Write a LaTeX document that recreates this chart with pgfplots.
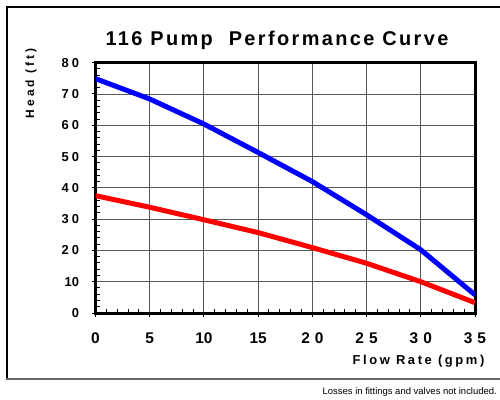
\documentclass[border=0pt]{standalone}
\usepackage{fontspec}
\setmainfont{Liberation Sans}
\usepackage{pgfplots}
\pgfplotsset{compat=1.18}
\begin{document}
\begin{tikzpicture}
\useasboundingbox (0,0) rectangle (500bp,-400bp);
\draw[line width=1.5bp, black] (7bp,-378.5bp) -- (7bp,-7bp) -- (505bp,-7bp);
\draw[line width=2bp, black!60] (6bp,-378.5bp) -- (505bp,-378.5bp);
\begin{axis}[
  at={(95.5bp,-313bp)}, anchor=south west,
  scale only axis, width=379.5bp, height=250.3bp,
  xmin=0, xmax=35, ymin=0, ymax=80,
  xtick={0,5,...,35}, ytick={0,10,...,80},
  xticklabels={0,5,10,15,2\kern5pt0,2\kern5pt5,3\kern5pt0,3\kern5pt5},
  yticklabels={0,10,2\kern3pt0,3\kern3pt0,4\kern3pt0,5\kern3pt0,6\kern3pt0,7\kern3pt0,8\kern3pt0},
  minor x tick num=4, minor y tick num=4,
  grid=major, major grid style={black!65, line width=0.9bp},
  axis line style={line width=3bp, black},
  xtick pos=bottom, ytick pos=left,
  tick align=inside,
  major tick length=4bp, minor tick length=4bp,
  tick style={black, line width=1bp},
  every major x tick/.append style={yshift=-4bp},
  every major y tick/.append style={xshift=-4bp},
  xticklabel style={font=\fontsize{15.5}{17}\selectfont\bfseries, yshift=-16bp},
  yticklabel style={font=\fontsize{13}{15}\selectfont\bfseries, xshift=-13bp},
]
\addplot[blue, line width=5bp, line join=round] coordinates {(0,74.9)(5,68.4)(10,60.4)(15,51.3)(20,42.0)(25,31.4)(30,20.2)(35,5.8)};
\addplot[red, line width=5bp, line join=round] coordinates {(0,37.5)(5,33.8)(10,29.8)(15,25.7)(20,20.9)(25,15.9)(30,10.0)(35,3.3)};
\end{axis}
\node[font=\fontsize{20}{22}\selectfont\bfseries\addfontfeatures{LetterSpace=12}] at (277bp,-40bp) {116 Pump\ \ Performance Curve};
\node[font=\fontsize{12}{14}\selectfont\bfseries\addfontfeatures{LetterSpace=25}, rotate=90] at (31bp,-83.5bp) {Head (ft)};
\node[font=\fontsize{13}{15}\selectfont\bfseries\addfontfeatures{LetterSpace=20}] at (418.5bp,-361bp) {Flow Rate (gpm)};
\node[font=\fontsize{9.5}{11}\selectfont, anchor=east, inner sep=0pt] at (497bp,-392bp) {Losses in fittings and valves not included.};
\end{tikzpicture}
\end{document}
